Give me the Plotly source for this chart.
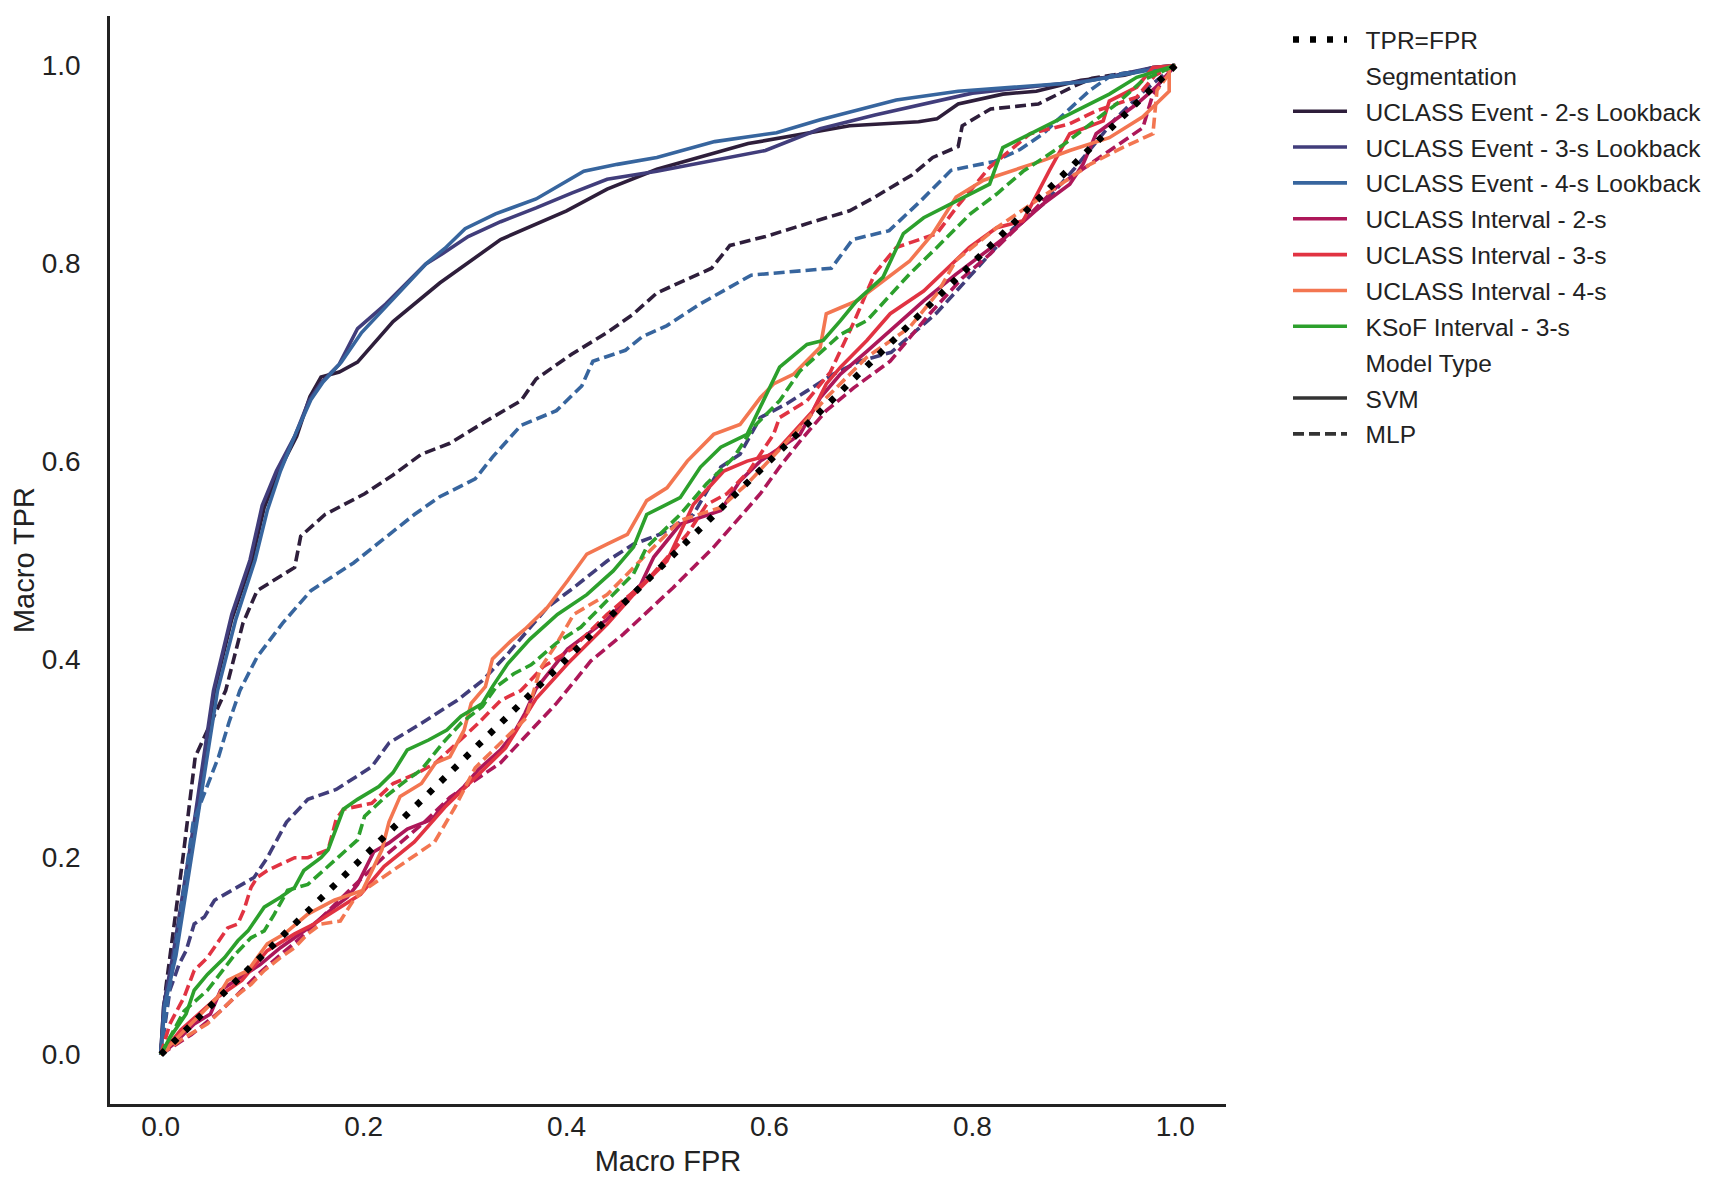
import plotly.graph_objects as go

# ROC points (macro FPR / macro TPR)
ev2_svm_fpr = [0, 0.003, 0.013, 0.034, 0.053, 0.07, 0.09, 0.102, 0.116, 0.134, 0.147, 0.158, 0.176, 0.194, 0.229, 0.275, 0.335, 0.40, 0.44, 0.489, 0.579, 0.679, 0.747, 0.765, 0.786, 0.83, 0.863, 0.907, 0.95, 0.978, 1.0]
ev2_svm_tpr = [0, 0.05, 0.10, 0.235, 0.368, 0.44, 0.50, 0.553, 0.589, 0.625, 0.665, 0.685, 0.69, 0.70, 0.741, 0.78, 0.824, 0.853, 0.875, 0.895, 0.921, 0.939, 0.943, 0.946, 0.961, 0.971, 0.974, 0.985, 0.99, 0.998, 1.0]

ev3_svm_fpr = [0, 0.003, 0.012, 0.033, 0.052, 0.07, 0.088, 0.10, 0.114, 0.132, 0.146, 0.158, 0.176, 0.194, 0.222, 0.261, 0.278, 0.303, 0.335, 0.37, 0.405, 0.44, 0.489, 0.596, 0.65, 0.704, 0.80, 0.918, 0.978, 1.0]
ev3_svm_tpr = [0, 0.05, 0.10, 0.235, 0.368, 0.445, 0.50, 0.555, 0.59, 0.625, 0.661, 0.679, 0.698, 0.734, 0.759, 0.799, 0.81, 0.827, 0.842, 0.856, 0.871, 0.885, 0.893, 0.914, 0.936, 0.95, 0.972, 0.985, 0.998, 1.0]

ev4_svm_fpr = [0, 0.004, 0.015, 0.036, 0.056, 0.074, 0.093, 0.105, 0.118, 0.134, 0.148, 0.16, 0.178, 0.198, 0.225, 0.262, 0.28, 0.30, 0.33, 0.37, 0.417, 0.45, 0.489, 0.546, 0.607, 0.65, 0.725, 0.786, 0.907, 0.976, 1.0]
ev4_svm_tpr = [0, 0.05, 0.10, 0.235, 0.368, 0.44, 0.50, 0.55, 0.59, 0.63, 0.662, 0.68, 0.70, 0.73, 0.76, 0.80, 0.815, 0.835, 0.85, 0.865, 0.893, 0.90, 0.907, 0.923, 0.932, 0.945, 0.965, 0.974, 0.983, 0.995, 1.0]

ev2_mlp_fpr = [0, 0.002, 0.005, 0.022, 0.034, 0.064, 0.081, 0.095, 0.132, 0.138, 0.162, 0.201, 0.229, 0.257, 0.285, 0.32, 0.355, 0.37, 0.405, 0.44, 0.465, 0.489, 0.543, 0.561, 0.596, 0.643, 0.679, 0.704, 0.74, 0.761, 0.786, 0.79, 0.818, 0.865, 0.90, 0.918, 1.0]
ev2_mlp_tpr = [0, 0.03, 0.067, 0.20, 0.301, 0.368, 0.436, 0.469, 0.4925, 0.524, 0.546, 0.567, 0.586, 0.607, 0.618, 0.64, 0.661, 0.683, 0.708, 0.73, 0.748, 0.77, 0.795, 0.818, 0.827, 0.842, 0.853, 0.867, 0.889, 0.907, 0.918, 0.939, 0.956, 0.961, 0.979, 0.987, 1.0]

ev3_mlp_fpr = [0, 0.009, 0.018, 0.025, 0.033, 0.043, 0.053, 0.079, 0.092, 0.105, 0.124, 0.145, 0.173, 0.208, 0.225, 0.257, 0.292, 0.317, 0.342, 0.381, 0.407, 0.44, 0.466, 0.492, 0.525, 0.552, 0.571, 0.591, 0.617, 0.637, 0.663, 0.689, 0.72, 0.765, 0.80, 0.84, 0.87, 0.90, 0.94, 0.97, 1.0]
ev3_mlp_tpr = [0, 0.065, 0.091, 0.105, 0.132, 0.139, 0.156, 0.172, 0.179, 0.199, 0.235, 0.258, 0.268, 0.291, 0.315, 0.335, 0.358, 0.378, 0.405, 0.452, 0.472, 0.499, 0.516, 0.526, 0.546, 0.594, 0.607, 0.644, 0.658, 0.671, 0.688, 0.701, 0.71, 0.75, 0.79, 0.835, 0.86, 0.895, 0.945, 0.975, 1.0]

ev4_mlp_fpr = [0, 0.004, 0.018, 0.032, 0.057, 0.067, 0.078, 0.095, 0.12, 0.148, 0.19, 0.215, 0.25, 0.275, 0.31, 0.327, 0.355, 0.39, 0.415, 0.426, 0.458, 0.475, 0.499, 0.532, 0.582, 0.661, 0.682, 0.718, 0.75, 0.779, 0.822, 0.847, 0.87, 0.883, 0.916, 0.937, 1.0]
ev4_mlp_tpr = [0, 0.033, 0.133, 0.235, 0.301, 0.335, 0.368, 0.402, 0.436, 0.469, 0.497, 0.517, 0.546, 0.564, 0.582, 0.604, 0.636, 0.651, 0.676, 0.701, 0.712, 0.726, 0.737, 0.759, 0.788, 0.795, 0.824, 0.833, 0.864, 0.894, 0.903, 0.915, 0.931, 0.944, 0.975, 0.99, 1.0]

in2_svm_fpr = [0, 0.012, 0.033, 0.049, 0.059, 0.079, 0.098, 0.118, 0.138, 0.151, 0.171, 0.184, 0.194, 0.21, 0.225, 0.243, 0.268, 0.275, 0.299, 0.313, 0.335, 0.348, 0.359, 0.37, 0.401, 0.44, 0.473, 0.486, 0.512, 0.552, 0.571, 0.591, 0.63, 0.65, 0.67, 0.696, 0.752, 0.784, 0.837, 0.87, 0.896, 0.909, 0.922, 0.962, 0.981, 1.0]
in2_svm_tpr = [0, 0.01, 0.031, 0.041, 0.065, 0.078, 0.091, 0.108, 0.122, 0.132, 0.149, 0.159, 0.172, 0.205, 0.214, 0.228, 0.238, 0.248, 0.271, 0.288, 0.308, 0.325, 0.345, 0.37, 0.41, 0.44, 0.475, 0.503, 0.536, 0.55, 0.58, 0.60, 0.627, 0.664, 0.688, 0.711, 0.762, 0.789, 0.83, 0.86, 0.88, 0.90, 0.931, 0.961, 0.978, 1.0]

in2_mlp_fpr = [0, 0.03, 0.06, 0.10, 0.14, 0.18, 0.22, 0.26, 0.285, 0.335, 0.363, 0.39, 0.424, 0.456, 0.505, 0.545, 0.591, 0.61, 0.63, 0.656, 0.683, 0.719, 0.758, 0.79, 0.817, 0.843, 0.883, 0.929, 0.968, 0.978, 1.0]
in2_mlp_tpr = [0, 0.02, 0.045, 0.085, 0.12, 0.16, 0.20, 0.235, 0.26, 0.295, 0.325, 0.355, 0.398, 0.425, 0.472, 0.513, 0.567, 0.594, 0.62, 0.651, 0.674, 0.701, 0.749, 0.785, 0.809, 0.835, 0.877, 0.91, 0.937, 0.971, 1.0]

in3_svm_fpr = [0, 0.02, 0.056, 0.08, 0.105, 0.132, 0.151, 0.177, 0.197, 0.22, 0.25, 0.28, 0.31, 0.34, 0.37, 0.401, 0.44, 0.466, 0.499, 0.525, 0.555, 0.578, 0.604, 0.643, 0.656, 0.67, 0.696, 0.719, 0.752, 0.797, 0.824, 0.85, 0.876, 0.896, 0.929, 0.935, 0.962, 0.978, 1.0]
in3_svm_tpr = [0, 0.025, 0.058, 0.075, 0.105, 0.122, 0.132, 0.149, 0.162, 0.19, 0.215, 0.25, 0.28, 0.31, 0.36, 0.395, 0.435, 0.465, 0.499, 0.556, 0.59, 0.60, 0.607, 0.651, 0.678, 0.695, 0.722, 0.749, 0.772, 0.816, 0.836, 0.843, 0.894, 0.931, 0.944, 0.964, 0.978, 0.998, 1.0]

in3_mlp_fpr = [0, 0.009, 0.023, 0.033, 0.046, 0.059, 0.066, 0.076, 0.082, 0.089, 0.095, 0.105, 0.132, 0.145, 0.165, 0.173, 0.18, 0.208, 0.229, 0.254, 0.271, 0.292, 0.313, 0.335, 0.355, 0.377, 0.405, 0.44, 0.48, 0.519, 0.538, 0.558, 0.58, 0.604, 0.61, 0.637, 0.66, 0.683, 0.704, 0.725, 0.765, 0.784, 0.817, 0.857, 0.896, 0.922, 0.962, 0.98, 1.0]
in3_mlp_tpr = [0, 0.031, 0.058, 0.085, 0.098, 0.118, 0.128, 0.132, 0.146, 0.169, 0.179, 0.186, 0.199, 0.199, 0.207, 0.238, 0.248, 0.254, 0.274, 0.285, 0.295, 0.315, 0.335, 0.358, 0.368, 0.392, 0.41, 0.445, 0.48, 0.526, 0.556, 0.567, 0.59, 0.627, 0.644, 0.661, 0.69, 0.74, 0.79, 0.816, 0.83, 0.856, 0.897, 0.931, 0.941, 0.954, 0.968, 0.99, 1.0]

in4_svm_fpr = [0, 0.03, 0.056, 0.066, 0.086, 0.105, 0.122, 0.145, 0.171, 0.199, 0.218, 0.225, 0.236, 0.257, 0.271, 0.285, 0.299, 0.306, 0.32, 0.327, 0.345, 0.359, 0.381, 0.401, 0.42, 0.44, 0.46, 0.479, 0.499, 0.519, 0.532, 0.545, 0.571, 0.591, 0.604, 0.624, 0.65, 0.656, 0.67, 0.686, 0.738, 0.761, 0.784, 0.811, 0.87, 0.896, 0.935, 0.968, 0.994, 0.994, 1.0]
in4_svm_tpr = [0, 0.031, 0.058, 0.075, 0.085, 0.112, 0.122, 0.142, 0.156, 0.166, 0.207, 0.235, 0.261, 0.274, 0.295, 0.301, 0.328, 0.355, 0.372, 0.40, 0.418, 0.43, 0.452, 0.479, 0.506, 0.516, 0.526, 0.56, 0.573, 0.60, 0.614, 0.627, 0.637, 0.664, 0.678, 0.688, 0.715, 0.749, 0.755, 0.762, 0.802, 0.83, 0.867, 0.884, 0.904, 0.914, 0.927, 0.948, 0.974, 0.998, 1.0]

in4_mlp_fpr = [0, 0.023, 0.046, 0.073, 0.089, 0.102, 0.118, 0.132, 0.145, 0.158, 0.177, 0.19, 0.2, 0.22, 0.25, 0.27, 0.29, 0.31, 0.34, 0.36, 0.374, 0.39, 0.407, 0.44, 0.479, 0.512, 0.552, 0.578, 0.624, 0.656, 0.696, 0.738, 0.765, 0.784, 0.824, 0.863, 0.916, 0.948, 0.978, 0.982, 1.0]
in4_mlp_tpr = [0, 0.017, 0.031, 0.058, 0.071, 0.085, 0.098, 0.108, 0.122, 0.132, 0.135, 0.156, 0.166, 0.18, 0.20, 0.215, 0.25, 0.29, 0.32, 0.34, 0.39, 0.415, 0.445, 0.465, 0.506, 0.54, 0.553, 0.577, 0.627, 0.664, 0.705, 0.735, 0.769, 0.803, 0.836, 0.863, 0.90, 0.917, 0.931, 0.975, 1.0]

ksof_svm_fpr = [0, 0.009, 0.025, 0.033, 0.046, 0.063, 0.076, 0.086, 0.102, 0.118, 0.132, 0.141, 0.158, 0.165, 0.18, 0.194, 0.215, 0.229, 0.243, 0.264, 0.282, 0.296, 0.317, 0.327, 0.342, 0.364, 0.391, 0.42, 0.446, 0.466, 0.479, 0.512, 0.532, 0.552, 0.578, 0.591, 0.61, 0.637, 0.653, 0.67, 0.686, 0.712, 0.732, 0.752, 0.784, 0.817, 0.83, 0.857, 0.896, 0.935, 0.962, 1.0]
ksof_svm_tpr = [0, 0.017, 0.041, 0.065, 0.081, 0.098, 0.115, 0.125, 0.149, 0.159, 0.169, 0.186, 0.199, 0.207, 0.248, 0.258, 0.271, 0.285, 0.308, 0.318, 0.328, 0.342, 0.355, 0.372, 0.395, 0.42, 0.445, 0.465, 0.489, 0.513, 0.546, 0.563, 0.594, 0.614, 0.627, 0.654, 0.695, 0.718, 0.722, 0.742, 0.762, 0.786, 0.83, 0.846, 0.863, 0.88, 0.917, 0.931, 0.951, 0.971, 0.988, 1.0]

ksof_mlp_fpr = [0, 0.023, 0.046, 0.073, 0.089, 0.102, 0.112, 0.125, 0.145, 0.174, 0.194, 0.201, 0.222, 0.243, 0.257, 0.278, 0.296, 0.317, 0.331, 0.348, 0.365, 0.39, 0.414, 0.44, 0.466, 0.479, 0.512, 0.538, 0.565, 0.584, 0.61, 0.63, 0.67, 0.696, 0.738, 0.765, 0.798, 0.824, 0.85, 0.89, 0.942, 0.968, 1.0]
ksof_mlp_tpr = [0, 0.044, 0.065, 0.101, 0.118, 0.125, 0.142, 0.166, 0.172, 0.199, 0.217, 0.241, 0.261, 0.278, 0.288, 0.315, 0.335, 0.352, 0.372, 0.385, 0.394, 0.416, 0.432, 0.459, 0.486, 0.513, 0.546, 0.577, 0.604, 0.634, 0.661, 0.691, 0.728, 0.742, 0.789, 0.816, 0.85, 0.87, 0.893, 0.92, 0.961, 0.985, 1.0]

segments = ["UCLASS Event - 2-s Lookback", "UCLASS Event - 3-s Lookback", "UCLASS Event - 4-s Lookback",
            "UCLASS Interval - 2-s", "UCLASS Interval - 3-s", "UCLASS Interval - 4-s", "KSoF Interval - 3-s"]
seg_colors = ["#2e1e3b", "#413d7b", "#37659e", "#ad1759", "#e13342", "#f37651", "#2ca02c"]
model_types = ["SVM", "MLP"]

curves = [
    (0, "SVM", ev2_svm_fpr, ev2_svm_tpr), (0, "MLP", ev2_mlp_fpr, ev2_mlp_tpr),
    (1, "SVM", ev3_svm_fpr, ev3_svm_tpr), (1, "MLP", ev3_mlp_fpr, ev3_mlp_tpr),
    (2, "SVM", ev4_svm_fpr, ev4_svm_tpr), (2, "MLP", ev4_mlp_fpr, ev4_mlp_tpr),
    (3, "SVM", in2_svm_fpr, in2_svm_tpr), (3, "MLP", in2_mlp_fpr, in2_mlp_tpr),
    (4, "SVM", in3_svm_fpr, in3_svm_tpr), (4, "MLP", in3_mlp_fpr, in3_mlp_tpr),
    (5, "SVM", in4_svm_fpr, in4_svm_tpr), (5, "MLP", in4_mlp_fpr, in4_mlp_tpr),
    (6, "SVM", ksof_svm_fpr, ksof_svm_tpr), (6, "MLP", ksof_mlp_fpr, ksof_mlp_tpr),
]

MLP_DASH = "11px,5px"
LW = 3.6
PAD = "\u00a0\u00a0"  # push legend text away from the line sample

fig = go.Figure()

for seg, mt, fpr, tpr in curves:
    fig.add_trace(go.Scatter(
        x=fpr, y=tpr, mode="lines", showlegend=False, hoverinfo="skip",
        line=dict(color=seg_colors[seg], width=LW, dash="solid" if mt == "SVM" else MLP_DASH),
    ))

# chance line
fig.add_trace(go.Scatter(
    x=[0, 1], y=[0, 1], mode="lines", name=PAD + "TPR=FPR", legendgroup="g0",
    line=dict(color="black", width=6.5, dash="6px,11px"),
))

# legend-only entries (seaborn style with section headers)
def legend_entry(name, color, dash="solid", width=LW, group=None):
    fig.add_trace(go.Scatter(
        x=[None], y=[None], mode="lines", name=PAD + name, legendgroup=group or name,
        line=dict(color=color, width=width, dash=dash),
    ))

legend_entry("Segmentation", "rgba(0,0,0,0)", width=0)
for s, c in zip(segments, seg_colors):
    legend_entry(s, c)
legend_entry("Model Type", "rgba(0,0,0,0)", width=0)
legend_entry("SVM", "#333333")
legend_entry("MLP", "#333333", dash=MLP_DASH)

axis_common = dict(
    showgrid=False, zeroline=False, showline=True, linecolor="#222222", linewidth=2.5,
    tickvals=[0, 0.2, 0.4, 0.6, 0.8, 1.0], ticktext=["0.0", "0.2", "0.4", "0.6", "0.8", "1.0"],
    tickfont=dict(size=28, color="#222222"),
    mirror=False,
)

fig.update_layout(
    width=1713, height=1178,
    plot_bgcolor="white", paper_bgcolor="white",
    font=dict(family="Liberation Sans, Arial, sans-serif", color="#222222"),
    margin=dict(l=102, r=495, t=8, b=82),
    xaxis=dict(range=[-0.05, 1.05], ticks="", ticklabelstandoff=-4,
               title=dict(text="Macro FPR", font=dict(size=29), standoff=10), **axis_common),
    yaxis=dict(range=[-0.05, 1.05], ticks="outside", ticklen=21, tickcolor="rgba(0,0,0,0)",
               title=dict(text="Macro TPR", font=dict(size=29), standoff=4), **axis_common),
    legend=dict(
        x=1.0 + (1280 - 1218) / 1116, y=0.999, xanchor="left", yanchor="top",
        font=dict(size=24.5, color="#222222"), bgcolor="rgba(0,0,0,0)", borderwidth=0,
        tracegroupgap=1, itemwidth=54, traceorder="grouped",
    ),
)

fig.write_html("out.html")
